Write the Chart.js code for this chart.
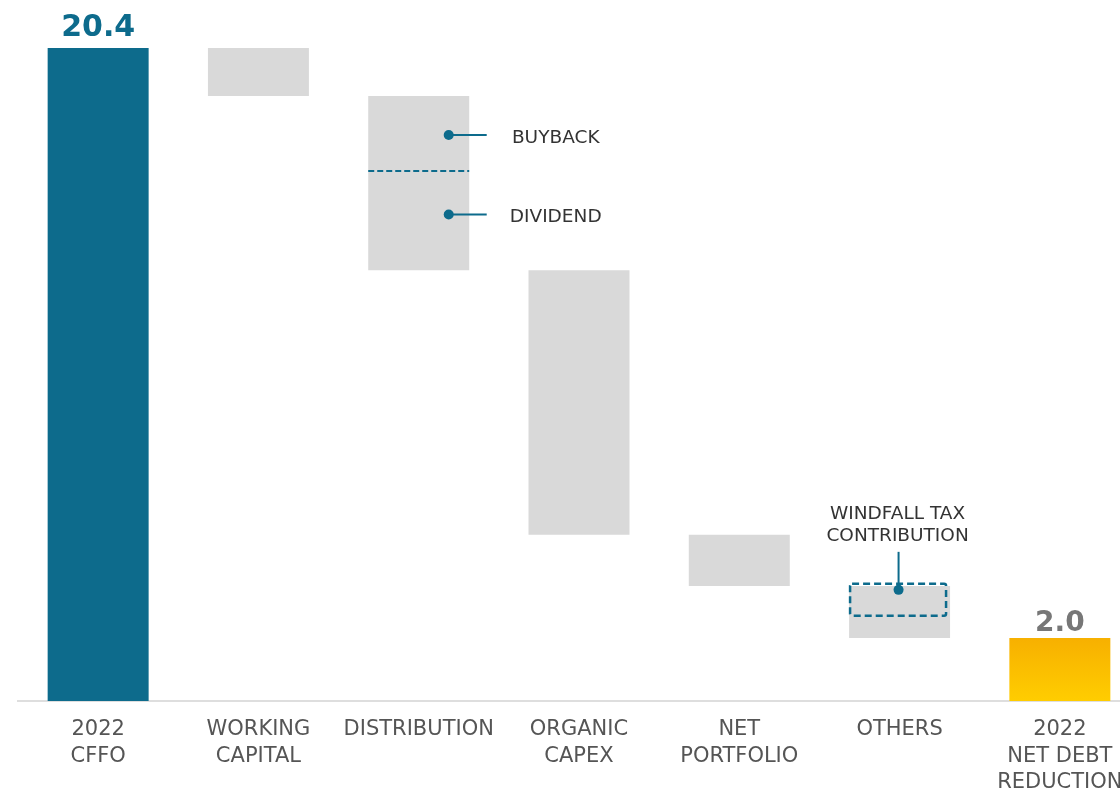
<!DOCTYPE html>
<html>
<head>
<meta charset="utf-8">
<script src="https://cdn.jsdelivr.net/npm/chart.js@4.4.1/dist/chart.umd.min.js"></script>
<style>
  html, body { margin: 0; padding: 0; background: #fff; overflow: hidden; }
  #wrap { width: 1140px; height: 791px; position: relative; }
</style>
</head>
<body>
<div id="wrap"><canvas id="chart-waterfall"></canvas></div>
<script>
// Categorie e valori (miliardi €)
const categories = [
  ['2022', 'CFFO'],
  ['WORKING', 'CAPITAL'],
  ['DISTRIBUTION'],
  ['ORGANIC', 'CAPEX'],
  ['NET', 'PORTFOLIO'],
  ['OTHERS'],
  ['2022', 'NET DEBT', 'REDUCTION']
];
const barLow  = [0,    18.9, 13.46, 5.19,  3.59, 1.97, 0];
const barHigh = [20.4, 20.4, 18.9,  13.46, 5.19, 3.59, 1.97];
const valueLabels = ['20.4', '', '', '', '', '', '2.0'];

// Suddivisione della distribuzione: buyback sopra, dividend sotto
const distSplit = 16.56;
const distParts = ['BUYBACK', 'DIVIDEND'];
const distMarkers = [17.68, 15.2];

// Windfall tax contribution dentro "Others"
const windfallRange = [2.66, 3.66];

const BLUE = '#0d6b8c';
const GREY = '#d9d9d9';

document.addEventListener("DOMContentLoaded", function() {
    const canvas = document.getElementById('chart-waterfall');
    const ctx = canvas.getContext('2d');

    // Colore di ogni barra: blu il primo, giallo sfumato l'ultimo, grigio il resto
    function barColor(context) {
        const i = context.dataIndex;
        if (i === 0) return BLUE;
        if (i === categories.length - 1) {
            const chart = context.chart;
            if (!chart.chartArea) return '#fcbf00';
            const y = chart.scales.y;
            const g = chart.ctx.createLinearGradient(0, y.getPixelForValue(barHigh[i]), 0, y.getPixelForValue(0));
            g.addColorStop(0, '#f7b000');
            g.addColorStop(1, '#ffcd00');
            return g;
        }
        return GREY;
    }

    // Plugin per etichette e annotazioni
    const annotazioni = {
        id: 'annotazioni',
        afterDatasetsDraw(chart) {
            const c = chart.ctx;
            const x = chart.scales.x;
            const y = chart.scales.y;
            const meta = chart.getDatasetMeta(0);

            // valori sopra le barre
            valueLabels.forEach((txt, i) => {
                if (!txt) return;
                c.save();
                c.font = 'bold ' + (i === 0 ? 30 : 28) + 'px "DejaVu Sans"';
                c.fillStyle = i === 0 ? BLUE : '#777777';
                c.textAlign = 'center';
                c.textBaseline = 'alphabetic';
                c.fillText(txt, x.getPixelForValue(i), y.getPixelForValue(barHigh[i]) - (i === 0 ? 12 : 7));
                c.restore();
            });

            // linea tratteggiata della distribuzione
            const dBar = meta.data[2];
            const half = dBar.width / 2;
            const ySplit = y.getPixelForValue(distSplit);
            c.save();
            c.strokeStyle = BLUE;
            c.lineWidth = 2;
            c.setLineDash([6, 3]);
            c.beginPath();
            c.moveTo(dBar.x - half, ySplit);
            c.lineTo(dBar.x + half, ySplit);
            c.stroke();
            c.restore();

            // marcatori buyback / dividend
            distParts.forEach((label, k) => {
                const py = y.getPixelForValue(distMarkers[k]);
                const px = dBar.x + 30;
                c.save();
                c.strokeStyle = BLUE;
                c.fillStyle = BLUE;
                c.lineWidth = 2;
                c.beginPath();
                c.moveTo(px, py);
                c.lineTo(px + 38, py);
                c.stroke();
                c.beginPath();
                c.arc(px, py, 5, 0, Math.PI * 2);
                c.fill();
                c.font = '18.5px "DejaVu Sans"';
                c.fillStyle = '#333333';
                c.textAlign = 'center';
                c.textBaseline = 'middle';
                c.fillText(label, px + 107, py + 3);
                c.restore();
            });

            // riquadro windfall tax
            const oBar = meta.data[5];
            const oHalf = oBar.width / 2;
            const top = y.getPixelForValue(windfallRange[1]);
            const bottom = y.getPixelForValue(windfallRange[0]);
            c.save();
            c.strokeStyle = BLUE;
            c.lineWidth = 2.5;
            c.setLineDash([7, 4]);
            c.beginPath();
            c.roundRect(oBar.x - oHalf + 1, top, oBar.width - 5, bottom - top, 2);
            c.stroke();
            c.setLineDash([]);
            c.lineWidth = 2;
            c.fillStyle = BLUE;
            c.beginPath();
            c.moveTo(oBar.x - 1, top + 6);
            c.lineTo(oBar.x - 1, top - 32);
            c.stroke();
            c.beginPath();
            c.arc(oBar.x - 1, top + 6, 5, 0, Math.PI * 2);
            c.fill();
            c.font = '18.5px "DejaVu Sans"';
            c.fillStyle = '#333333';
            c.textAlign = 'center';
            c.textBaseline = 'middle';
            c.fillText('WINDFALL TAX', oBar.x - 2, top - 70);
            c.fillText('CONTRIBUTION', oBar.x - 2, top - 48);
            c.restore();
        }
    };

    new Chart(ctx, {
        type: 'bar',
        data: {
            labels: categories,
            datasets: [{
                data: barLow.map((lo, i) => [lo, barHigh[i]]),
                backgroundColor: barColor,
                borderWidth: 0,
                barPercentage: 0.63,
                categoryPercentage: 1
            }]
        },
        options: {
            responsive: true,
            maintainAspectRatio: false,
            animation: false,
            layout: { padding: { left: 18, right: 0, top: 0, bottom: 0 } },
            plugins: {
                legend: { display: false },
                tooltip: { enabled: false }
            },
            scales: {
                x: {
                    grid: { display: false },
                    border: { display: true, color: '#dedede', width: 2 },
                    ticks: {
                        color: '#555555',
                        font: { family: '"DejaVu Sans"', size: 21, lineHeight: 1.24 },
                        padding: 8,
                        maxRotation: 0,
                        autoSkip: false
                    },
                    afterFit(scale) { scale.height = 90; }
                },
                y: {
                    display: false,
                    min: 0,
                    max: 21.9
                }
            }
        },
        plugins: [annotazioni]
    });
});
</script>
</body>
</html>
